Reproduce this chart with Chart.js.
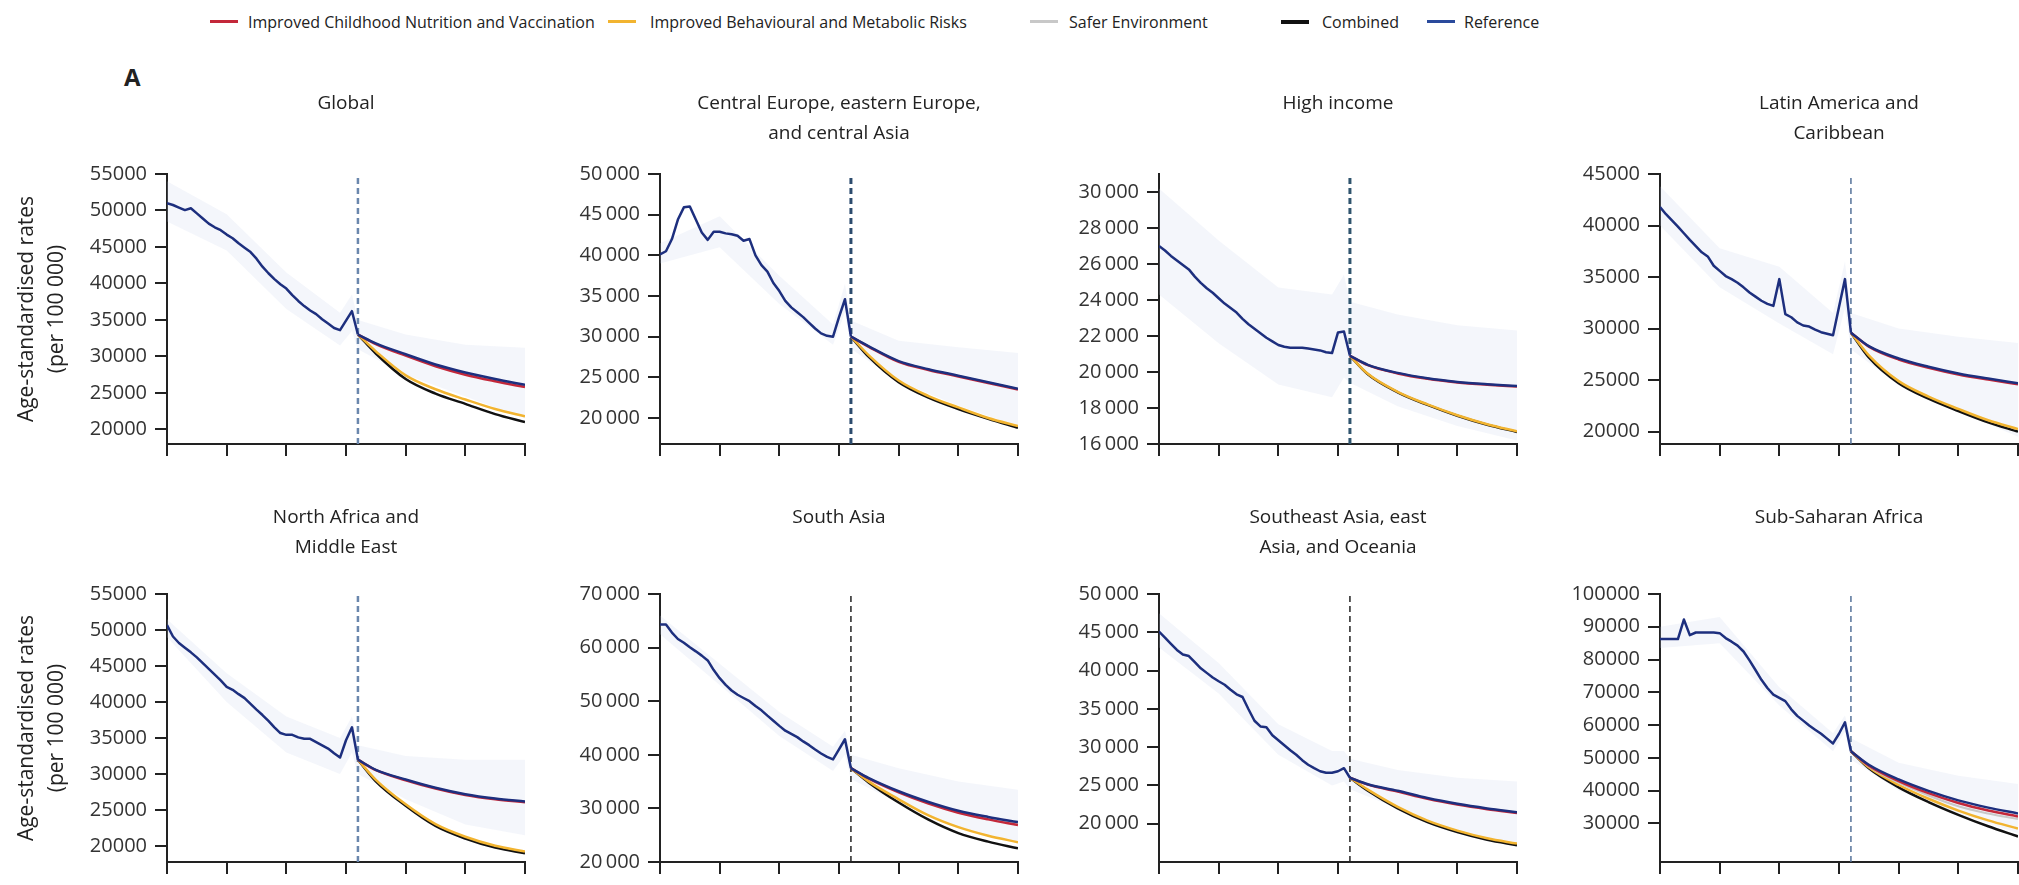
<!DOCTYPE html>
<html>
<head>
<meta charset="utf-8">
<script src="https://cdn.jsdelivr.net/npm/chart.js@4.4.0/dist/chart.umd.min.js"></script>
<style>
  body { margin: 0; background: #fff; width: 2019px; height: 885px; overflow: hidden; position: relative;
         font-family: 'Open Sans', sans-serif; color: #222; }
  canvas { position: absolute; }
  .swatch { position: absolute; top: 20px; width: 28px; height: 3px; }
  .label { position: absolute; top: 10px; font-size: 16px; line-height: 24px; white-space: nowrap; }
  #panel-letter { position: absolute; left: 124px; top: 60px; font-size: 24px; font-weight: 700; }
</style>
</head>
<body>
<span class="swatch" style="left:210px;background:#c3283a"></span><span class="label" style="left:248px">Improved Childhood Nutrition and Vaccination</span>
<span class="swatch" style="left:608px;background:#f2b430"></span><span class="label" style="left:650px">Improved Behavioural and Metabolic Risks</span>
<span class="swatch" style="left:1030px;background:#c8c8c8"></span><span class="label" style="left:1069px">Safer Environment</span>
<span class="swatch" style="left:1281px;background:#111;height:4px"></span><span class="label" style="left:1322px">Combined</span>
<span class="swatch" style="left:1427px;background:#2a4a9c"></span><span class="label" style="left:1464px">Reference</span>
<div id="panel-letter">A</div>
<script>
// Regions, in panel order (left to right, top row first)
const regionTitles = [
  ['Global', ''],
  ['Central Europe, eastern Europe,', 'and central Asia'],
  ['High income', ''],
  ['Latin America and', 'Caribbean'],
  ['North Africa and', 'Middle East'],
  ['South Asia', ''],
  ['Southeast Asia, east', 'Asia, and Oceania'],
  ['Sub-Saharan Africa', '']
];

const historyYears = [1990, 1991, 1992, 1993, 1994, 1995, 1996, 1997, 1998, 1999, 2000, 2001, 2002, 2003, 2004,
  2005, 2006, 2007, 2008, 2009, 2010, 2011, 2012, 2013, 2014, 2015, 2016, 2017, 2018, 2019, 2020, 2021, 2022];
const forecastYears = [2022, 2025, 2030, 2035, 2040, 2045, 2050];
const bandYears = [1990, 2000, 2010, 2019, 2021, 2022, 2030, 2040, 2050];
const forecastStart = 2022;

// Estimated age-standardised rates per 100 000, 1990-2022
const referenceHistory = [
  [51000, 50750, 50400, 50050, 50300, 49600, 48900, 48200, 47700, 47300, 46700, 46200, 45500, 44900, 44300, 43400, 42300, 41400, 40600, 39900, 39300, 38400, 37600, 36900, 36300, 35800, 35100, 34500, 33900, 33600, 34900, 36200, 33000],
  [40100, 40500, 42000, 44400, 45900, 46000, 44400, 42800, 41900, 42900, 42900, 42700, 42600, 42400, 41800, 42000, 40000, 38800, 38000, 36600, 35600, 34400, 33600, 33000, 32400, 31700, 31000, 30400, 30100, 30000, 32400, 34600, 30000],
  [27000, 26750, 26450, 26200, 25950, 25700, 25300, 24950, 24650, 24400, 24100, 23800, 23550, 23300, 22950, 22650, 22400, 22150, 21900, 21700, 21500, 21400, 21350, 21350, 21350, 21300, 21250, 21200, 21100, 21050, 22200, 22250, 20900],
  [41800, 41100, 40500, 39900, 39250, 38600, 38000, 37400, 37000, 36100, 35600, 35100, 34800, 34450, 34000, 33500, 33100, 32700, 32400, 32200, 34800, 31400, 31100, 30600, 30300, 30200, 29900, 29650, 29500, 29350, 32100, 34800, 29600],
  [50700, 49100, 48200, 47550, 46900, 46200, 45400, 44600, 43800, 43000, 42100, 41700, 41100, 40550, 39750, 38950, 38200, 37400, 36500, 35700, 35450, 35450, 35100, 34900, 34900, 34450, 34000, 33550, 32900, 32300, 34700, 36500, 32000],
  [64300, 64300, 62800, 61600, 60900, 60050, 59300, 58500, 57600, 55800, 54300, 53050, 52000, 51200, 50600, 50000, 49100, 48300, 47300, 46350, 45400, 44500, 43900, 43300, 42500, 41800, 41000, 40250, 39600, 39150, 41000, 42900, 37500],
  [45100, 44300, 43500, 42700, 42100, 41900, 41100, 40300, 39700, 39100, 38600, 38150, 37500, 36900, 36550, 34950, 33450, 32700, 32600, 31550, 30900, 30250, 29600, 29000, 28300, 27700, 27250, 26850, 26650, 26650, 26850, 27250, 26000],
  [86250, 86250, 86250, 86250, 92200, 87450, 88250, 88250, 88250, 88250, 88050, 86550, 85450, 84250, 82450, 79750, 76800, 73800, 71300, 69300, 68300, 67300, 64800, 62800, 61350, 59850, 58550, 57350, 55850, 54400, 57350, 60850, 52000]
];

// Forecast scenarios, 2022-2050
const referenceForecast = [
  [33000, 31800, 30300, 28900, 27800, 26900, 26100],
  [30000, 28800, 27000, 26000, 25200, 24400, 23600],
  [20900, 20400, 19950, 19650, 19450, 19320, 19220],
  [29600, 28300, 27100, 26300, 25650, 25150, 24700],
  [32000, 30600, 29250, 28100, 27200, 26600, 26200],
  [37500, 35650, 33200, 31200, 29550, 28400, 27450],
  [26000, 25150, 24300, 23350, 22600, 22000, 21500],
  [52000, 47900, 43400, 39900, 37000, 34800, 33000]
];
const childhoodForecast = [
  [33000, 31700, 30100, 28650, 27500, 26600, 25800],
  [30000, 28750, 26900, 25900, 25100, 24300, 23500],
  [20900, 20380, 19920, 19620, 19420, 19290, 19190],
  [29600, 28250, 27000, 26200, 25550, 25050, 24600],
  [32000, 30550, 29150, 28000, 27100, 26500, 26100],
  [37500, 35550, 33000, 30900, 29200, 27950, 26900],
  [26000, 25100, 24200, 23250, 22500, 21900, 21400],
  [52000, 47600, 42900, 39200, 36200, 33900, 32100]
];
const saferForecast = [
  [33000, 31750, 30200, 28800, 27700, 26800, 26000],
  [30000, 28780, 26950, 25950, 25150, 24350, 23550],
  [20900, 20390, 19940, 19640, 19440, 19310, 19210],
  [29600, 28280, 27050, 26250, 25600, 25100, 24650],
  [32000, 30580, 29200, 28050, 27150, 26550, 26150],
  [37500, 35600, 33100, 31050, 29400, 28200, 27200],
  [26000, 25120, 24250, 23300, 22550, 21950, 21450],
  [52000, 47400, 42400, 38500, 35200, 33000, 31300]
];
const behaviouralForecast = [
  [33000, 30700, 27400, 25500, 24100, 22800, 21800],
  [30000, 27700, 24600, 22700, 21300, 20000, 19000],
  [20900, 19900, 18900, 18200, 17600, 17100, 16700],
  [29600, 27400, 24900, 23400, 22200, 21100, 20250],
  [32000, 29200, 25800, 23050, 21300, 20050, 19250],
  [37500, 35000, 31700, 28700, 26500, 24900, 23700],
  [26000, 24450, 22200, 20400, 19100, 18100, 17400],
  [52000, 47100, 41700, 37500, 33900, 30900, 28400]
];
const combinedForecast = [
  [33000, 30400, 26900, 24900, 23500, 22100, 21000],
  [30000, 27500, 24400, 22500, 21100, 19900, 18800],
  [20900, 19870, 18870, 18170, 17570, 17070, 16670],
  [29600, 27200, 24700, 23200, 22000, 20900, 20000],
  [32000, 29000, 25600, 22800, 21050, 19800, 19000],
  [37500, 34800, 31100, 27900, 25400, 23800, 22550],
  [26000, 24300, 22000, 20200, 18900, 17900, 17200],
  [52000, 46800, 41000, 36500, 32600, 29100, 26000]
];

// Uncertainty interval of the reference scenario
const bandUpper = [
  [54000, 49500, 41500, 36000, 38500, 35000, 33000, 31600, 31200],
  [41500, 44800, 37500, 31500, 36500, 32000, 29500, 28700, 28000],
  [30200, 27300, 24700, 24300, 25400, 23900, 23200, 22600, 22300],
  [43800, 37800, 36000, 31500, 36500, 31500, 30000, 29200, 28600],
  [51500, 44000, 38000, 35000, 38000, 34000, 32500, 32000, 32000],
  [66000, 57000, 48000, 41500, 44500, 40000, 37500, 35000, 33500],
  [47500, 41000, 33000, 29500, 29500, 28500, 27000, 26000, 25500],
  [90000, 93000, 71500, 57500, 63000, 56000, 48500, 44500, 42000]
];
const bandLower = [
  [48500, 44500, 36500, 31500, 33500, 31000, 27500, 24500, 21500],
  [39000, 41000, 34000, 29000, 33000, 28500, 24500, 21500, 19000],
  [24300, 21600, 19300, 18600, 19700, 19400, 18100, 17000, 16200],
  [40000, 34000, 30500, 27500, 32000, 28000, 24500, 22000, 19500],
  [49000, 40000, 33000, 30000, 33000, 30000, 26500, 23000, 21500],
  [62500, 53000, 43500, 37000, 40000, 35500, 31000, 26500, 23500],
  [43000, 37000, 29000, 25000, 25500, 24500, 22000, 19000, 17000],
  [83500, 85000, 66000, 52000, 58000, 49500, 40000, 33000, 27000]
];

// Y axis ranges and tick labels
const yMin = [18000, 16800, 16000, 18800, 17800, 20000, 15000, 18200];
const yMax = [55000, 50000, 31000, 45000, 55000, 70000, 50000, 100000];
const yTicks = [
  [20000, 25000, 30000, 35000, 40000, 45000, 50000, 55000],
  [20000, 25000, 30000, 35000, 40000, 45000, 50000],
  [16000, 18000, 20000, 22000, 24000, 26000, 28000, 30000],
  [20000, 25000, 30000, 35000, 40000, 45000],
  [20000, 25000, 30000, 35000, 40000, 45000, 50000, 55000],
  [20000, 30000, 40000, 50000, 60000, 70000],
  [20000, 25000, 30000, 35000, 40000, 45000, 50000],
  [30000, 40000, 50000, 60000, 70000, 80000, 90000, 100000]
];
const spacedThousands = [false, true, true, false, false, true, true, false];
const xTicks = [1990, 2000, 2010, 2020, 2030, 2040, 2050];

// Styling
const FONT = "'Open Sans', sans-serif";
const INK = '#222';
const COLORS = {
  reference: '#1d2f7e',
  childhood: '#c3283a',
  safer: '#c8c8c8',
  behavioural: '#f2b430',
  combined: '#111111',
  band: 'rgba(200, 212, 234, 0.2)'
};
const dividerColors = ['#6a87ad', '#2d4c6e', '#30556e', '#56739a', '#6a87ad', '#222', '#222', '#56739a'];
const dividerWidths = [2.5, 3, 3, 1.5, 2.5, 1.5, 1.5, 1.5];

// Panel layout
const colLeft = [167, 660, 1159, 1660];
const plotWidth = 358;
const rowTop = [80, 498];
const titlePadTop = [9, 5];
const titleGap = [25, 31];
const canvasHeight = 384;

function points(xs, ys) {
  return xs.map((x, i) => ({ x: x, y: ys[i] }));
}

function formatTick(value, spaced) {
  const s = String(value);
  return spaced ? s.replace(/\B(?=(\d{3})+(?!\d))/g, '\u2009') : s;
}

function line(label, data, color, width, smooth) {
  return {
    label: label,
    data: data,
    borderColor: color,
    borderWidth: width,
    fill: false,
    tension: 0,
    cubicInterpolationMode: smooth ? 'monotone' : 'default'
  };
}

function createPanel(i) {
  const col = i % 4;
  const row = Math.floor(i / 4);
  const yw = col === 0 ? colLeft[0] : 120;
  const canvas = document.createElement('canvas');
  canvas.width = yw + plotWidth + 6;
  canvas.height = canvasHeight;
  canvas.style.left = (colLeft[col] - yw) + 'px';
  canvas.style.top = rowTop[row] + 'px';
  document.body.appendChild(canvas);

  const datasets = [
    line('Reference', points(forecastYears, referenceForecast[i]), COLORS.reference, 2.5, true),
    line('Reference (estimated)', points(historyYears, referenceHistory[i]), COLORS.reference, 2.5, false),
    line('Improved Childhood Nutrition and Vaccination', points(forecastYears, childhoodForecast[i]), COLORS.childhood, 2.5, true),
    line('Safer Environment', points(forecastYears, saferForecast[i]), COLORS.safer, 2, true),
    line('Improved Behavioural and Metabolic Risks', points(forecastYears, behaviouralForecast[i]), COLORS.behavioural, 2.5, true),
    line('Combined', points(forecastYears, combinedForecast[i]), COLORS.combined, 2.5, true),
    Object.assign(line('Forecast start', [{ x: forecastStart, y: yMin[i] }, { x: forecastStart, y: yMax[i] }],
      dividerColors[i], dividerWidths[i], false), { borderDash: [6, 4] }),
    {
      label: 'Upper', data: points(bandYears, bandUpper[i]), borderWidth: 0,
      backgroundColor: COLORS.band, fill: '+1', tension: 0
    },
    {
      label: 'Lower', data: points(bandYears, bandLower[i]), borderWidth: 0,
      fill: false, tension: 0
    }
  ];

  const yTitle = col === 0 ? {
    display: true,
    text: ['Age-standardised rates', '(per 100 000)'],
    color: INK,
    font: { family: FONT, size: 21, lineHeight: '30px' },
    padding: { top: 12, bottom: 0 }
  } : { display: false };

  return new Chart(canvas.getContext('2d'), {
    type: 'line',
    data: { datasets: datasets },
    options: {
      responsive: false,
      animation: false,
      events: [],
      layout: { autoPadding: false, padding: { top: 0, right: 6, bottom: 0, left: 0 } },
      elements: { point: { radius: 0 }, line: { borderJoinStyle: 'round' } },
      plugins: {
        legend: { display: false },
        tooltip: { enabled: false },
        title: {
          display: true,
          text: regionTitles[i],
          fullSize: false,
          color: INK,
          font: { family: FONT, size: 19, weight: 'normal', lineHeight: '30px' },
          padding: { top: titlePadTop[row], bottom: titleGap[row] }
        }
      },
      scales: {
        x: {
          type: 'linear',
          min: xTicks[0],
          max: xTicks[xTicks.length - 1],
          afterFit: (scale) => { scale.height = 14; },
          afterBuildTicks: (scale) => { scale.ticks = xTicks.map(v => ({ value: v })); },
          ticks: { display: false },
          grid: { drawOnChartArea: false, drawTicks: true, tickLength: 12, color: INK, lineWidth: 2 },
          border: { display: true, color: INK, width: 2 }
        },
        y: {
          type: 'linear',
          min: yMin[i],
          max: yMax[i],
          afterFit: (scale) => { scale.width = yw; },
          afterBuildTicks: (scale) => { scale.ticks = yTicks[i].map(v => ({ value: v })); },
          ticks: {
            autoSkip: false,
            padding: 8,
            color: '#333',
            font: { family: FONT, size: 20 },
            callback: (v) => formatTick(v, spacedThousands[i])
          },
          grid: { drawOnChartArea: false, drawTicks: true, tickLength: 12, color: INK, lineWidth: 2 },
          border: { display: true, color: INK, width: 2 },
          title: yTitle
        }
      }
    }
  });
}

for (let i = 0; i < regionTitles.length; i++) {
  createPanel(i);
}
</script>
</body>
</html>
